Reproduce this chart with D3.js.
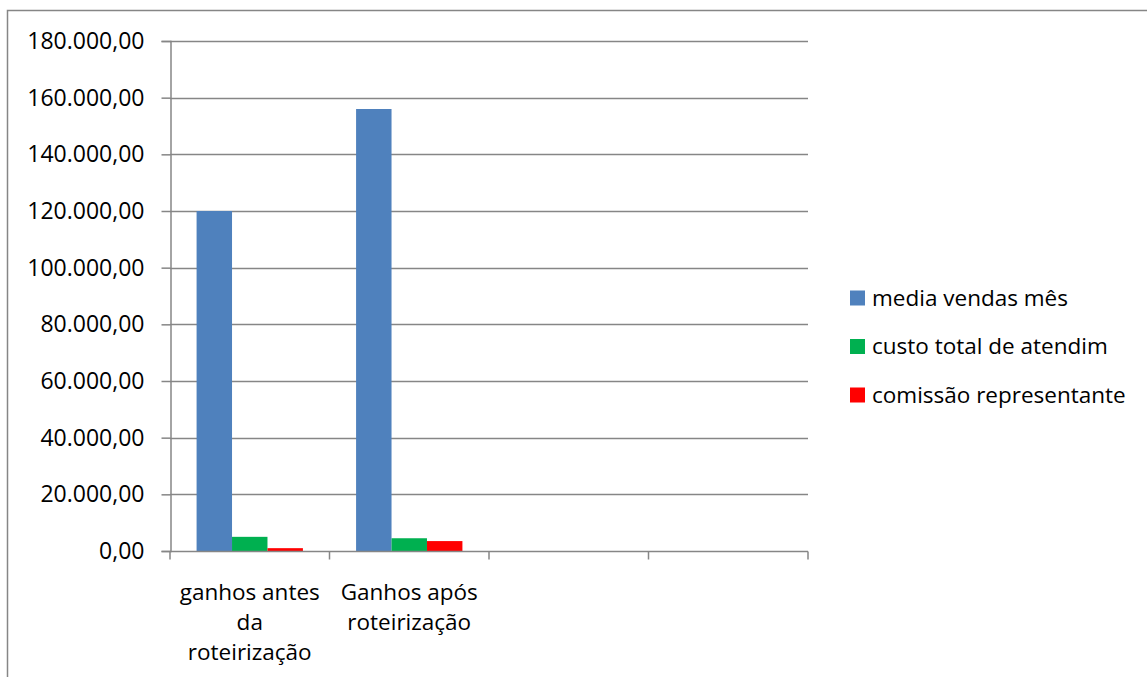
<!DOCTYPE html>
<html>
<head>
<meta charset="utf-8">
<script src="https://cdn.jsdelivr.net/npm/d3@7"></script>
<style>
  body { margin: 0; background: #fff; }
  text { font-family: "Open Sans", sans-serif; fill: #000; }
</style>
</head>
<body>
<script>
// valores do grafico
var categorias = ["ganhos antes da roteirização", "Ganhos após roteirização", "", " "];
var series = ["media vendas mês", "custo total de atendim", "comissão representante"];
var cores = ["#4f81bd", "#00b050", "#ff0000"];
var mediaVendas = [120000, 156000, null, null];
var custoTotal = [5000, 4500, null, null];
var comissao = [1000, 3500, null, null];
var yTicks = [0, 20000, 40000, 60000, 80000, 100000, 120000, 140000, 160000, 180000];

var valores = [mediaVendas, custoTotal, comissao];

var W = 1147, H = 677;
var margin = {left: 170, right: 339, top: 41, bottom: 126};

var svg = d3.select(document.body).append("svg")
  .attr("width", W)
  .attr("height", H);

// borda do grafico
svg.append("rect")
  .attr("x", 7.5).attr("y", 10.5)
  .attr("width", W + 10).attr("height", H + 10)
  .attr("fill", "none")
  .attr("stroke", "#868686")
  .attr("stroke-width", 1.5);

var x = d3.scaleBand()
  .domain(categorias)
  .range([margin.left, W - margin.right]);

var y = d3.scaleLinear()
  .domain([0, 180000])
  .range([H - margin.bottom, margin.top]);

var pt = d3.formatLocale({decimal: ",", thousands: ".", grouping: [3], currency: ["R$", ""]});
var fmt = pt.format(",.2f");

// linhas de grade
svg.append("g")
  .selectAll("line")
  .data(yTicks.slice(1))
  .enter().append("line")
  .attr("x1", margin.left).attr("x2", W - margin.right)
  .attr("y1", function (d) { return Math.round(y(d)) + 0.5; })
  .attr("y2", function (d) { return Math.round(y(d)) + 0.5; })
  .attr("stroke", "#868686")
  .attr("stroke-width", 1.5);

// barras
var x1 = d3.scaleBand()
  .domain(d3.range(series.length))
  .range([0, x.bandwidth()])
  .paddingOuter(0.75)
  .paddingInner(0);

for (var s = 0; s < series.length; s++) {
  svg.append("g")
    .selectAll("rect")
    .data(valores[s].map(function (v, i) { return {cat: categorias[i], v: v}; })
      .filter(function (d) { return d.v != null; }))
    .enter().append("rect")
    .attr("x", function (d) { return x(d.cat) + x1(s); })
    .attr("width", x1.bandwidth())
    .attr("y", function (d) { return y(d.v); })
    .attr("height", function (d) { return y(0) - y(d.v); })
    .attr("fill", cores[s]);
}

// eixo y
var yAxis = svg.append("g")
  .attr("transform", "translate(" + (margin.left + 0.5) + ",0)")
  .call(d3.axisLeft(y).tickValues(yTicks).tickFormat(fmt).tickSizeOuter(0).tickSize(9).tickPadding(17));
yAxis.select(".domain").attr("stroke", "#868686").attr("stroke-width", 1.5);
yAxis.selectAll(".tick line").attr("stroke", "#868686").attr("stroke-width", 1.5);
yAxis.selectAll("text")
  .style("font-size", "23px")
  .attr("fill", "#000");

// eixo x
var xAxis = svg.append("g")
  .attr("transform", "translate(0," + (y(0) + 0.5) + ")");
xAxis.append("line")
  .attr("x1", margin.left).attr("x2", W - margin.right)
  .attr("stroke", "#868686").attr("stroke-width", 1.5);
var bordas = categorias.map(function (c) { return x(c); }).concat([x.range()[1]]);
xAxis.selectAll(".tk")
  .data(bordas)
  .enter().append("line")
  .attr("x1", function (d) { return d; }).attr("x2", function (d) { return d; })
  .attr("y1", 0).attr("y2", 8)
  .attr("stroke", "#868686").attr("stroke-width", 1.5);

// rotulos das categorias com quebra de linha
categorias.forEach(function (c) {
  var t = xAxis.append("text")
    .attr("text-anchor", "middle")
    .style("font-size", "22.5px")
    .attr("x", x(c) + x.bandwidth() / 2)
    .attr("y", 48);
  var palavras = c.trim().split(/\s+/).filter(function (p) { return p.length; });
  var linha = [];
  var ts = t.append("tspan").attr("x", x(c) + x.bandwidth() / 2).attr("dy", 0);
  palavras.forEach(function (p) {
    linha.push(p);
    ts.text(linha.join(" "));
    if (ts.node().getComputedTextLength() > 150 && linha.length > 1) {
      linha.pop();
      ts.text(linha.join(" "));
      linha = [p];
      ts = t.append("tspan").attr("x", x(c) + x.bandwidth() / 2).attr("dy", 30).text(p);
    }
  });
});

// legenda
var leg = svg.append("g").attr("transform", "translate(850,298)");
series.forEach(function (nome, i) {
  var g = leg.append("g").attr("transform", "translate(0," + (i * 48.5) + ")");
  g.append("rect")
    .attr("x", 0).attr("y", -7.5)
    .attr("width", 15).attr("height", 15)
    .attr("fill", cores[i]);
  g.append("text")
    .attr("x", 22).attr("y", 0)
    .attr("dy", "0.35em")
    .style("font-size", "22.5px")
    .text(nome);
});
</script>
</body>
</html>
